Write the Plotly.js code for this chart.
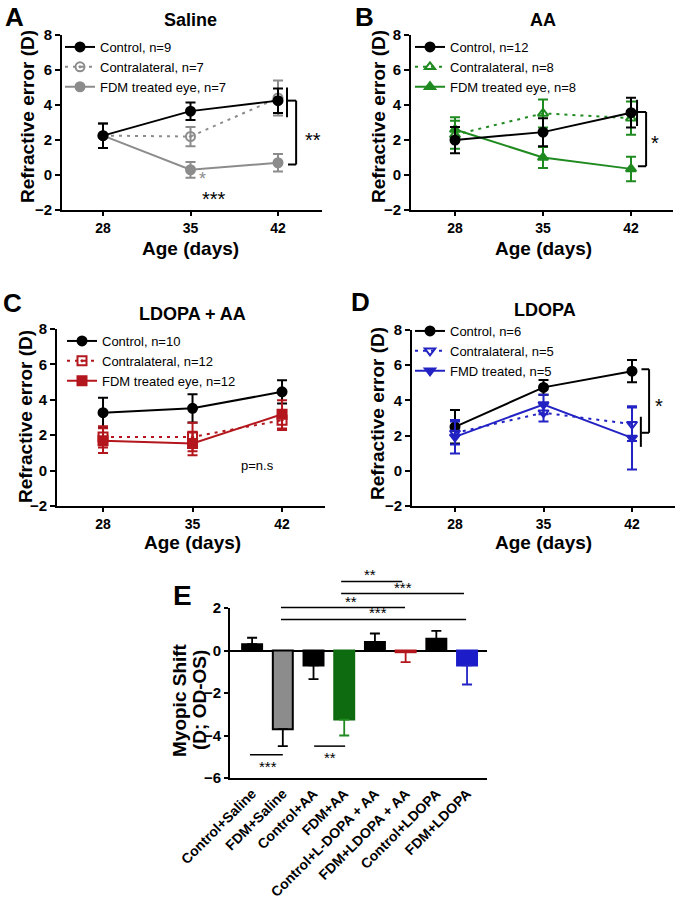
<!DOCTYPE html>
<html><head><meta charset="utf-8">
<script src="https://cdn.plot.ly/plotly-3.0.1.min.js"></script>
<style>html,body{margin:0;padding:0;background:#fff}#chart{width:683px;height:900px}</style>
</head><body><div id="chart"></div>
<script>
// ---------- DATA ----------
const ages = [28, 35, 42];
const yTicks = [-2, 0, 2, 4, 6, 8];

// Panel A: Saline
const salineControl = [2.25, 3.65, 4.25];
const salineControlErr = [0.7, 0.5, 0.7];
const salineContra = [2.25, 2.2, 4.4];
const salineContraErr = [0.7, 0.55, 1.0];
const salineFDM = [2.25, 0.3, 0.7];
const salineFDMErr = [0.7, 0.45, 0.5];

// Panel B: AA
const aaControl = [2.0, 2.45, 3.56];
const aaControlErr = [0.75, 0.8, 0.85];
const aaContra = [2.3, 3.52, 3.25];
const aaContraErr = [0.8, 0.8, 0.95];
const aaFDM = [2.6, 1.0, 0.35];
const aaFDMErr = [0.7, 0.6, 0.7];

// Panel C: LDOPA + AA
const laControl = [3.27, 3.52, 4.45];
const laControlErr = [0.85, 0.8, 0.66];
const laContra = [1.9, 1.9, 2.85];
const laContraErr = [0.6, 0.8, 0.55];
const laFDM = [1.69, 1.53, 3.18];
const laFDMErr = [0.7, 0.66, 0.8];

// Panel D: LDOPA
const ldControl = [2.5, 4.74, 5.66];
const ldControlErr = [0.95, 0.42, 0.63];
const ldContra = [2.15, 3.3, 2.65];
const ldContraErr = [0.65, 0.5, 0.95];
const ldFDM = [1.93, 3.77, 1.87];
const ldFDMErr = [0.95, 0.55, 1.8];

// Panel E: myopic shift
const eCategories = ['Control+Saline', 'FDM+Saline', 'Control+AA', 'FDM+AA',
  'Control+L-DOPA + AA', 'FDM+LDOPA + AA', 'Control+LDOPA', 'FDM+LDOPA'];
const eValues = [0.3, -3.7, -0.7, -3.25, 0.4, -0.08, 0.55, -0.7];
const eErrors = [0.3, 0.8, 0.65, 0.75, 0.4, 0.47, 0.37, 0.9];
const eYTicks = [-6, -4, -2, 0, 2];

// ---------- LAYOUT HELPERS ----------
const W = 683, H = 900;
const px = v => v / W;
const py = v => 1 - v / H;
const FONT = 'Liberation Sans, Arial, sans-serif';
const GRAY = '#8c8c8c', GREEN = '#1f8a1f', RED = '#b3161c', BLUE = '#2323c4';
const DOT = '3px,5px';

function xAxis(l, r, range, anchor) {
  return {
    domain: [px(l), px(r)], range: range, anchor: anchor,
    tickvals: ages, ticks: 'outside', ticklen: 4, tickwidth: 2, tickcolor: '#000',
    showline: true, linecolor: '#000', linewidth: 2, showgrid: false, zeroline: false,
    tickfont: {family: FONT, size: 14, weight: 'bold', color: '#000'}
  };
}
function yAxis(t, b, anchor) {
  return {
    domain: [py(b), py(t)], range: [-2, 8], anchor: anchor,
    tickvals: yTicks, ticks: 'outside', ticklen: 5, tickwidth: 2, tickcolor: '#000',
    showline: true, linecolor: '#000', linewidth: 2, showgrid: false, zeroline: false,
    tickfont: {family: FONT, size: 15, weight: 'bold', color: '#000'}
  };
}
function lt(y, err, name, color, symbol, dash, xa, ya, leg, rank) {
  return {
    type: 'scatter', mode: 'lines+markers', x: ages, y: y, name: name,
    xaxis: xa, yaxis: ya, legend: leg, legendrank: rank, cliponaxis: false,
    line: {color: color, width: 2, dash: dash},
    marker: {symbol: symbol, size: 9, color: color, line: {color: color, width: 2}},
    error_y: {type: 'data', array: err, visible: true, color: color, thickness: 2, width: 5}
  };
}

const traces = [
  lt(salineFDM, salineFDMErr, 'FDM treated eye, n=7', GRAY, 'circle', 'solid', 'x', 'y', 'legend', 3),
  lt(salineContra, salineContraErr, 'Contralateral, n=7', GRAY, 'circle-open-dot', DOT, 'x', 'y', 'legend', 2),
  lt(salineControl, salineControlErr, 'Control, n=9', '#000', 'circle', 'solid', 'x', 'y', 'legend', 1),

  lt(aaContra, aaContraErr, 'Contralateral, n=8', GREEN, 'triangle-up-open', DOT, 'x2', 'y2', 'legend2', 2),
  lt(aaFDM, aaFDMErr, 'FDM treated eye, n=8', GREEN, 'triangle-up', 'solid', 'x2', 'y2', 'legend2', 3),
  lt(aaControl, aaControlErr, 'Control, n=12', '#000', 'circle', 'solid', 'x2', 'y2', 'legend2', 1),

  lt(laControl, laControlErr, 'Control, n=10', '#000', 'circle', 'solid', 'x3', 'y3', 'legend3', 1),
  lt(laContra, laContraErr, 'Contralateral, n=12', RED, 'square-open-dot', DOT, 'x3', 'y3', 'legend3', 2),
  lt(laFDM, laFDMErr, 'FDM treated eye, n=12', RED, 'square', 'solid', 'x3', 'y3', 'legend3', 3),

  lt(ldControl, ldControlErr, 'Control, n=6', '#000', 'circle', 'solid', 'x4', 'y4', 'legend4', 1),
  lt(ldContra, ldContraErr, 'Contralateral, n=5', BLUE, 'triangle-down-open', DOT, 'x4', 'y4', 'legend4', 2),
  lt(ldFDM, ldFDMErr, 'FMD treated, n=5', BLUE, 'triangle-down', 'solid', 'x4', 'y4', 'legend4', 3)
];

// Panel E bars (one trace per bar so each can have its own error-bar colour)
const eFill = ['#000', GRAY, '#000', '#0f6b0f', '#000', '#fff', '#000', '#1c1cc8'];
const eLine = ['#000', '#000', '#000', '#0f6b0f', '#000', RED, '#000', '#1c1cc8'];
const eErrCol = ['#000', '#000', '#000', GREEN, '#000', RED, '#000', BLUE];
eCategories.forEach((c, i) => {
  const v = eValues[i], e = eErrors[i];
  traces.push({
    type: 'bar', x: [c], y: [v], xaxis: 'x5', yaxis: 'y5', showlegend: false, width: 0.65,
    marker: {color: eFill[i], line: {color: eLine[i], width: 2}},
    error_y: {type: 'data', symmetric: false, array: [v >= 0 ? e : 0], arrayminus: [v < 0 ? e : 0],
      visible: true, color: eErrCol[i], thickness: 1.8, width: 5}
  });
});

// E coordinate helpers (paper) for significance marks outside the plot
const eXr = [-0.72, 7.65], eYr = [-6, 2], eL = 230, eR = 487, eT = 608, eB = 778;
const eX = i => px(eL + (i - eXr[0]) / (eXr[1] - eXr[0]) * (eR - eL));
const eY = v => py(eB - (v - eYr[0]) / (eYr[1] - eYr[0]) * (eB - eT));

const shapes = [];
const annotations = [];
function seg(xref, yref, x0, y0, x1, y1, w) {
  shapes.push({type: 'line', xref: xref, yref: yref, x0: x0, y0: y0, x1: x1, y1: y1,
    line: {color: '#000', width: w || 2}});
}
function txt(xref, yref, x, y, t, size, color, bold, extra) {
  annotations.push(Object.assign({xref: xref, yref: yref, x: x, y: y, text: t, showarrow: false,
    xanchor: 'center', yanchor: 'middle',
    font: {family: FONT, size: size, color: color || '#000', weight: bold ? 'bold' : 'normal'}}, extra || {}));
}

// Panel A brackets
seg('x', 'y', 42.72, 5.0, 42.72, 3.3);
seg('x', 'y', 42.8, 4.25, 43.45, 4.25);
seg('x', 'y', 43.45, 4.25, 43.45, 0.6);
seg('x', 'y', 42.8, 0.6, 43.45, 0.6);
txt('x', 'y', 44.8, 2.0, '**', 20, '#000', false);
txt('x', 'y', 35.95, -0.25, '*', 18, GRAY, false);
txt('x', 'y', 36.85, -1.4, '***', 20, '#000', false);
// Panel B
seg('x2', 'y2', 42.48, 4.3, 42.48, 2.8);
seg('x2', 'y2', 42.55, 3.6, 43.2, 3.6);
seg('x2', 'y2', 43.2, 3.6, 43.2, 0.5);
seg('x2', 'y2', 42.55, 0.5, 43.2, 0.5);
txt('x2', 'y2', 43.9, 1.8, '*', 20, '#000', false);
// Panel C
txt('x3', 'y3', 40.1, 0.3, 'p=n.s', 13, '#000', false);
// Panel D
seg('x4', 'y4', 42.7, 3.07, 42.7, 1.36);
seg('x4', 'y4', 42.75, 5.77, 43.35, 5.77);
seg('x4', 'y4', 43.35, 5.77, 43.35, 2.16);
seg('x4', 'y4', 42.75, 2.16, 43.35, 2.16);
txt('x4', 'y4', 44.1, 3.7, '*', 20, '#000', false);

// Panel E significance lines
[[2.9, 4.89, 3.25, '**', 3.84], [2.9, 6.9, 2.68, '***', 4.92],
 [0.94, 4.98, 2.02, '**', 3.22], [0.94, 6.97, 1.46, '***', 4.1]].forEach(s => {
  seg('paper', 'paper', eX(s[0]), eY(s[2]), eX(s[1]), eY(s[2]), 1.5);
  txt('paper', 'paper', eX(s[4]), eY(s[2]), s[3], 15, '#000', false, {yanchor: 'bottom', yshift: -4});
});
[[-0.07, 1.0, -4.9, '***', 0.52], [2.02, 3.03, -4.5, '**', 2.54]].forEach(s => {
  seg('paper', 'paper', eX(s[0]), eY(s[2]), eX(s[1]), eY(s[2]), 1.5);
  txt('paper', 'paper', eX(s[4]), eY(s[2]), s[3], 15, '#000', false, {yanchor: 'top', yshift: -1});
});

// Axis titles (as annotations for exact placement)
const yTitle = (x, y) => txt('paper', 'paper', px(x), py(y), 'Refractive error (D)', 19, '#000', true, {textangle: -90});
const xTitle = (x, y) => txt('paper', 'paper', px(x), py(y), 'Age (days)', 19, '#000', true);
yTitle(27, 117); yTitle(378, 117); yTitle(25, 417); yTitle(378, 414);
xTitle(190, 248); xTitle(543, 248); xTitle(192, 542); xTitle(543, 542);
txt('paper', 'paper', px(179), py(700), 'Myopic Shift', 19, '#000', true, {textangle: -90});
txt('paper', 'paper', px(199), py(700), '(D; OD-OS)', 19, '#000', true, {textangle: -90});

// Panel titles and letters
txt('paper', 'paper', px(190), py(20), 'Saline', 18, '#000', true);
txt('paper', 'paper', px(543), py(20), 'AA', 18, '#000', true);
txt('paper', 'paper', px(192), py(314), 'LDOPA + AA', 18, '#000', true);
txt('paper', 'paper', px(545), py(310), 'LDOPA', 18, '#000', true);
txt('paper', 'paper', px(14), py(17), 'A', 26, '#000', true);
txt('paper', 'paper', px(364), py(17), 'B', 26, '#000', true);
txt('paper', 'paper', px(12), py(303), 'C', 26, '#000', true);
txt('paper', 'paper', px(360), py(302), 'D', 26, '#000', true);
txt('paper', 'paper', px(182), py(595), 'E', 28, '#000', true);

function leg(lx, ty) {
  return {x: px(lx), y: py(ty), xanchor: 'left', yanchor: 'top', bgcolor: 'rgba(0,0,0,0)',
    font: {family: FONT, size: 13, color: '#000'}, itemwidth: 30, tracegroupgap: 0, traceorder: 'normal'};
}

const layout = {
  width: W, height: H, margin: {l: 0, r: 0, t: 0, b: 0},
  paper_bgcolor: '#fff', plot_bgcolor: 'rgba(0,0,0,0)',
  font: {family: FONT, color: '#000'},
  showlegend: true, barmode: 'overlay',
  xaxis: xAxis(62, 322, [24.72, 45.52], 'y'), yaxis: yAxis(35, 210, 'x'),
  xaxis2: xAxis(411, 673, [24.5, 45.34], 'y2'), yaxis2: yAxis(35, 210, 'x2'),
  xaxis3: xAxis(57, 325, [24.4, 45.36], 'y3'), yaxis3: yAxis(329, 506, 'x3'),
  xaxis4: xAxis(412, 675, [24.6, 45.4], 'y4'), yaxis4: yAxis(330, 506, 'x4'),
  xaxis5: {domain: [px(eL), px(eR)], range: eXr, anchor: 'y5', type: 'category',
    categoryorder: 'array', categoryarray: eCategories, tickangle: -45, ticks: '',
    showline: true, linecolor: '#000', linewidth: 2, showgrid: false, zeroline: false,
    tickfont: {family: FONT, size: 14, weight: 'bold', color: '#000'}},
  yaxis5: {domain: [py(eB), py(eT)], range: eYr, anchor: 'x5', tickvals: eYTicks,
    ticks: 'outside', ticklen: 4, tickwidth: 2, tickcolor: '#000',
    showline: true, linecolor: '#000', linewidth: 2, showgrid: false,
    zeroline: true, zerolinecolor: '#000', zerolinewidth: 2,
    tickfont: {family: FONT, size: 15, weight: 'bold', color: '#000'}},
  legend: leg(60, 32), legend2: leg(410, 32), legend3: leg(62, 326), legend4: leg(410, 316),
  shapes: shapes, annotations: annotations
};

Plotly.newPlot('chart', traces, layout, {staticPlot: true, displayModeBar: false});
</script>
</body></html>
